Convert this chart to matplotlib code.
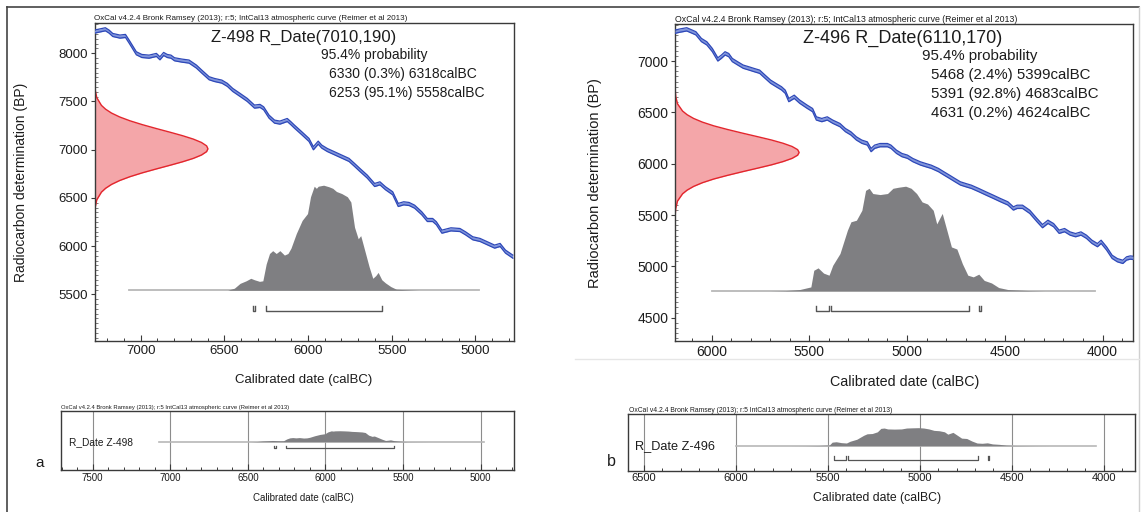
import numpy as np
import matplotlib
matplotlib.use("Agg")
import matplotlib.pyplot as plt
from matplotlib.lines import Line2D
from matplotlib.ticker import MultipleLocator, FixedLocator
from matplotlib import font_manager

plt.rcParams['font.family'] = ['Liberation Sans', 'DejaVu Sans']

# ---------------- data: panel a (Z-498) ----------------
a_title = "Z-498 R_Date(7010,190)"
a_ranges_text = ["95.4% probability", "6330 (0.3%) 6318calBC", "6253 (95.1%) 5558calBC"]
a_curve_cal = [7276, 7211, 7189, 7167, 7124, 7091, 7069, 7026, 6993, 6950, 6906, 6885, 6863, 6841,
               6819, 6798, 6754, 6711, 6667, 6635, 6591, 6559, 6515, 6482, 6450, 6406, 6363, 6320,
               6287, 6265, 6233, 6200, 6168, 6124, 6102, 6081, 6037, 5994, 5968, 5939, 5918, 5885,
               5842, 5798, 5755, 5722, 5690, 5646, 5602, 5570, 5537, 5494, 5461, 5428, 5396, 5363,
               5320, 5287, 5255, 5233, 5200, 5146, 5092, 5059, 5015, 4972, 4928, 4885, 4852, 4820, 4776]
a_curve_bp = [8225, 8249, 8225, 8190, 8173, 8180, 8121, 8000, 7972, 7965, 7983, 7948, 7993, 7972,
              7965, 7938, 7924, 7914, 7862, 7810, 7741, 7723, 7706, 7672, 7620, 7568, 7516, 7447,
              7454, 7429, 7343, 7291, 7281, 7308, 7274, 7239, 7170, 7101, 7015, 7073, 7032, 6997,
              6963, 6928, 6894, 6842, 6790, 6721, 6634, 6651, 6600, 6548, 6427, 6444, 6437, 6409,
              6340, 6271, 6271, 6237, 6150, 6174, 6167, 6133, 6081, 6064, 6029, 5995, 6012, 5943, 5891]
a_r_bp = [7770, 7700, 7620, 7540, 7460, 7420, 7380, 7340, 7300, 7260, 7220, 7180, 7145, 7110, 7075,
          7040, 7010, 6980, 6945, 6910, 6875, 6840, 6800, 6760, 6720, 6680, 6640, 6600, 6560, 6480,
          6400, 6320, 6250]
a_r_h = [0.0003, 0.0014, 0.0058, 0.020, 0.061, 0.098, 0.150, 0.221, 0.312, 0.421, 0.543, 0.670,
         0.777, 0.871, 0.943, 0.988, 1.0, 0.988, 0.943, 0.871, 0.777, 0.670, 0.543, 0.421, 0.312,
         0.221, 0.150, 0.098, 0.061, 0.020, 0.0058, 0.0014, 0.0003]
a_post_cal = [6480, 6440, 6406, 6370, 6342, 6320, 6290, 6270, 6250, 6230, 6211, 6190, 6168, 6141,
              6120, 6102, 6070, 6035, 6003, 5985, 5963, 5950, 5939, 5907, 5875, 5852, 5830, 5798,
              5765, 5744, 5722, 5700, 5685, 5668, 5635, 5613, 5595, 5581, 5559, 5537, 5505, 5472,
              5385, 5340]
a_post_h = [0.0, 0.02, 0.066, 0.09, 0.114, 0.10, 0.085, 0.09, 0.25, 0.35, 0.377, 0.35, 0.377, 0.335,
            0.35, 0.40, 0.54, 0.665, 0.73, 0.89, 0.99, 0.97, 0.99, 1.0, 0.985, 0.97, 0.94, 0.92,
            0.89, 0.84, 0.60, 0.49, 0.52, 0.42, 0.225, 0.114, 0.14, 0.17, 0.10, 0.07, 0.035, 0.01,
            0.003, 0.0]
a_base_span = [7070, 4978]
a_ranges = [(6330, 6318), (6253, 5558)]
a_label = "R_Date Z-498"

# ---------------- data: panel b (Z-496) ----------------
b_title = "Z-496 R_Date(6110,170)"
b_ranges_text = ["95.4% probability", "5468 (2.4%) 5399calBC", "5391 (92.8%) 4683calBC",
                 "4631 (0.2%) 4624calBC"]
b_curve_cal = [6187, 6164, 6127, 6099, 6080, 6052, 6024, 5996, 5968, 5950, 5931, 5912, 5894, 5866,
               5838, 5810, 5782, 5754, 5726, 5698, 5670, 5642, 5623, 5605, 5577, 5549, 5511, 5483,
               5464, 5436, 5408, 5380, 5343, 5315, 5287, 5259, 5231, 5203, 5184, 5166, 5138, 5100,
               5082, 5054, 5026, 4998, 4970, 4932, 4904, 4876, 4839, 4811, 4783, 4755, 4727, 4699,
               4671, 4633, 4596, 4559, 4522, 4484, 4456, 4437, 4409, 4372, 4335, 4307, 4279, 4250,
               4222, 4194, 4166, 4138, 4110, 4082, 4054, 4026, 4007, 3979, 3951, 3924, 3896, 3877,
               3858, 3844]
b_curve_bp = [7286, 7296, 7309, 7286, 7270, 7205, 7172, 7107, 7016, 7042, 7075, 7058, 7010, 6977,
              6945, 6929, 6912, 6896, 6847, 6799, 6766, 6734, 6701, 6620, 6652, 6604, 6555, 6522,
              6441, 6425, 6441, 6409, 6376, 6327, 6295, 6246, 6214, 6197, 6133, 6165, 6181, 6181,
              6165, 6116, 6084, 6068, 6035, 6003, 5986, 5970, 5938, 5905, 5873, 5840, 5808, 5791,
              5775, 5743, 5710, 5678, 5645, 5613, 5564, 5580, 5580, 5531, 5450, 5392, 5434, 5401,
              5337, 5353, 5320, 5304, 5320, 5288, 5239, 5207, 5239, 5174, 5093, 5060, 5044, 5077,
              5086, 5083]
b_r_bp = [6790, 6727, 6656, 6584, 6513, 6477, 6441, 6405, 6369, 6334, 6298, 6262, 6231, 6199, 6168,
          6137, 6110, 6083, 6052, 6021, 5989, 5958, 5922, 5886, 5851, 5815, 5779, 5743, 5707, 5636,
          5564, 5493, 5430]
b_r_h = [0.0003, 0.0014, 0.0058, 0.020, 0.061, 0.098, 0.150, 0.221, 0.312, 0.421, 0.543, 0.670,
         0.777, 0.871, 0.943, 0.988, 1.0, 0.988, 0.943, 0.871, 0.777, 0.670, 0.543, 0.421, 0.312,
         0.221, 0.150, 0.098, 0.061, 0.020, 0.0058, 0.0014, 0.0003]
b_post_cal = [5700, 5623, 5549, 5492, 5477, 5455, 5427, 5399, 5380, 5343, 5305, 5287, 5259, 5231,
              5212, 5194, 5175, 5138, 5100, 5072, 5044, 5007, 4979, 4951, 4923, 4895, 4866, 4848,
              4820, 4792, 4773, 4745, 4717, 4689, 4661, 4633, 4605, 4568, 4531, 4484, 4372, 4297]
b_post_h = [0.0, 0.003, 0.013, 0.038, 0.197, 0.22, 0.17, 0.15, 0.245, 0.357, 0.58, 0.66, 0.675,
            0.77, 0.96, 0.98, 0.93, 0.92, 0.93, 0.98, 0.99, 1.0, 0.98, 0.93, 0.85, 0.83, 0.77,
            0.64, 0.74, 0.55, 0.42, 0.40, 0.26, 0.15, 0.134, 0.16, 0.10, 0.076, 0.032, 0.013,
            0.003, 0.0]
b_base_span = [6000, 4040]
b_ranges = [(5468, 5399), (5391, 4683), (4631, 4624)]
b_label = "R_Date Z-496"

header_main = "OxCal v4.2.4 Bronk Ramsey (2013); r:5; IntCal13 atmospheric curve (Reimer et al 2013)"
header_small = "OxCal v4.2.4 Bronk Ramsey (2013); r:5 IntCal13 atmospheric curve (Reimer et al 2013)"
ylabel = "Radiocarbon determination (BP)"
xlabel = "Calibrated date (calBC)"

# ---------------- styling ----------------
BAND_FILL = '#8196dc'
BAND_EDGE = '#2e48b8'
RED_FILL = '#f4a6a9'
RED_EDGE = '#e3262d'
GRAY = '#7f7f82'
BASE = '#b8b8b8'
BRK = '#555555'
TXT = '#1c1c1c'
SPINE = '#3a3a3a'

names = {f.name for f in font_manager.fontManager.ttflist}
NARROW = 'Liberation Sans Narrow' in names
hdr_family = ['Liberation Sans Narrow', 'Liberation Sans'] if NARROW else ['Liberation Sans']
hdr_k = 1.2 if NARROW else 1.0

W, H = 1142, 512
fig = plt.figure(figsize=(W / 100, H / 100), dpi=100)


def box(l, t, r, b):
    return [l / W, 1 - b / H, (r - l) / W, (b - t) / H]


def ftext(x, y, s, **kw):
    kw.setdefault('color', TXT)
    fig.text(x / W, 1 - y / H, s, **kw)


def draw_main(ax, xlim, ylim, cal, bp, r_bp, r_h, r_w, post_cal, post_h, base_bp, post_scale,
              base_span, ranges, br_y, br_tick, fs):
    ax.set_xlim(xlim)
    ax.set_ylim(ylim)
    cal = np.asarray(cal, float)
    bp = np.asarray(bp, float)
    half = 16
    x0 = xlim[0]
    rx = x0 - np.asarray(r_h) * r_w
    ax.fill_betweenx(r_bp, x0, rx, color=RED_FILL, lw=0, zorder=2)
    ax.plot(rx, r_bp, color=RED_EDGE, lw=1.0, zorder=2.5)
    ax.plot(base_span, [base_bp, base_bp], color=BASE, lw=1.3, zorder=1)
    ax.fill_between(post_cal, base_bp, base_bp + np.asarray(post_h) * post_scale,
                    color=GRAY, lw=0, zorder=1.5)
    ax.fill_between(cal, bp - half, bp + half, color=BAND_FILL, lw=0, zorder=3)
    ax.plot(cal, bp + half, color=BAND_EDGE, lw=0.9, zorder=4)
    ax.plot(cal, bp - half, color=BAND_EDGE, lw=0.9, zorder=4)
    for s, e in ranges:
        ax.plot([s, s, e, e], [br_y + br_tick, br_y, br_y, br_y + br_tick],
                color=BRK, lw=1.0, zorder=2)
    ax.xaxis.set_major_locator(MultipleLocator(500))
    ax.xaxis.set_minor_locator(MultipleLocator(100))
    ax.yaxis.set_major_locator(MultipleLocator(500))
    ax.yaxis.set_minor_locator(MultipleLocator(50))
    ax.tick_params(axis='x', which='major', direction='in', length=4.5, width=0.8,
                   pad=3, labelsize=fs, colors=SPINE, labelcolor=TXT)
    ax.tick_params(axis='x', which='minor', direction='in', length=2.2, width=0.7, colors=SPINE)
    ax.tick_params(axis='y', which='major', direction='out', length=3, width=0.8,
                   pad=1.5, labelsize=fs, colors=SPINE, labelcolor=TXT)
    ax.tick_params(axis='y', which='minor', direction='in', length=2.2, width=0.6, colors='#666666')
    for sp in ax.spines.values():
        sp.set_color(SPINE)
        sp.set_linewidth(1.0)


def draw_small(ax, xlim, post_cal, post_h, base_y, post_scale, base_span, ranges, br_y, br_tick,
               fs, xticks):
    ax.set_xlim(xlim)
    ax.set_ylim(0, 1)
    ax.xaxis.set_major_locator(FixedLocator(xticks))
    ax.xaxis.set_minor_locator(MultipleLocator(100))
    ax.set_yticks([])
    for t in xticks:
        ax.axvline(t, color='#8c8c8c', lw=0.8, zorder=0.5)
    ax.plot(base_span, [base_y, base_y], color=BASE, lw=1.2, zorder=1)
    ax.fill_between(post_cal, base_y, base_y + np.asarray(post_h) * post_scale,
                    color=GRAY, lw=0, zorder=1.5)
    for s, e in ranges:
        ax.plot([s, s, e, e], [br_y + br_tick, br_y, br_y, br_y + br_tick],
                color=BRK, lw=0.9, zorder=2)
    ax.tick_params(axis='x', which='major', direction='in', length=4, width=0.8, pad=2,
                   labelsize=fs, colors=SPINE, labelcolor=TXT)
    ax.tick_params(axis='x', which='minor', direction='in', length=2.2, width=0.7, colors=SPINE)
    for sp in ax.spines.values():
        sp.set_color(SPINE)
        sp.set_linewidth(1.0)


# ---------------- main panels ----------------
axA = fig.add_axes(box(94.5, 23.3, 514, 341))
draw_main(axA, (7276, 4769), (5016, 8311), a_curve_cal, a_curve_bp, a_r_bp, a_r_h, 678,
          a_post_cal, a_post_h, 5542, 1090, a_base_span, a_ranges, 5330, 50, 9.5)

axB = fig.add_axes(box(675, 24, 1133, 341))
draw_main(axB, (6187, 3844), (4273, 7361), b_curve_cal, b_curve_bp, b_r_bp, b_r_h, 635,
          b_post_cal, b_post_h, 4761, 1020, b_base_span, b_ranges, 4565, 48, 10)

# ---------------- small panels ----------------
axa = fig.add_axes(box(61, 410.7, 514.5, 470))
draw_small(axa, (7704, 4782), a_post_cal, a_post_h, 0.477, 0.185, a_base_span, a_ranges,
           0.37, 0.03, 7, [7500, 7000, 6500, 6000, 5500, 5000])

axb = fig.add_axes(box(628.4, 414.3, 1134.8, 470.7))
draw_small(axb, (6585, 3831), b_post_cal, b_post_h, 0.443, 0.32, b_base_span, b_ranges,
           0.19, 0.07, 8, [6500, 6000, 5500, 5000, 4500, 4000])

# ---------------- texts ----------------
ftext(94.5, 19, header_main, fontsize=5.8 * hdr_k, family=hdr_family, ha='left', va='center')
ftext(675, 20, header_main, fontsize=6.3 * hdr_k, family=hdr_family, ha='left', va='center')
ftext(61, 407.5, header_small, fontsize=4.2 * hdr_k, family=hdr_family, ha='left', va='center')
ftext(629, 410, header_small, fontsize=4.9 * hdr_k, family=hdr_family, ha='left', va='center')

ftext(304, 37, a_title, fontsize=12, ha='center', va='center')
ftext(321, 55, a_ranges_text[0], fontsize=10, ha='left', va='center')
for i, s in enumerate(a_ranges_text[1:]):
    ftext(329, 74 + 19 * i, s, fontsize=10, ha='left', va='center')

ftext(903, 38, b_title, fontsize=13, ha='center', va='center')
ftext(922, 56, b_ranges_text[0], fontsize=10.8, ha='left', va='center')
for i, s in enumerate(b_ranges_text[1:]):
    ftext(931, 75 + 19 * i, s, fontsize=10.8, ha='left', va='center')

ftext(20.7, 182, ylabel, fontsize=10, rotation=90, ha='center', va='center')
ftext(595, 183, ylabel, fontsize=10.5, rotation=90, ha='center', va='center')
ftext(303.6, 380, xlabel, fontsize=9.5, ha='center', va='center')
ftext(905, 382, xlabel, fontsize=10.3, ha='center', va='center')

ftext(69, 441.7, a_label, fontsize=7.3, ha='left', va='center')
ftext(635, 445.7, b_label, fontsize=9.2 * hdr_k, family=hdr_family, ha='left', va='center')
ftext(303, 497.7, xlabel, fontsize=7, ha='center', va='center')
ftext(877, 498, xlabel, fontsize=8.8, ha='center', va='center')
ftext(40, 463, "a", fontsize=11, ha='center', va='center')
ftext(611, 462, "b", fontsize=11.5, ha='center', va='center')

# ---------------- frame lines ----------------
fig.add_artist(Line2D([7 / W, 7 / W], [0, 1 - 7 / H], transform=fig.transFigure,
                      color='#444444', lw=1.2))
fig.add_artist(Line2D([7 / W, 1139 / W], [1 - 7 / H, 1 - 7 / H], transform=fig.transFigure,
                      color='#444444', lw=1.2))
fig.add_artist(Line2D([1139 / W, 1139 / W], [0, 1 - 7 / H], transform=fig.transFigure,
                      color='#d0d0d0', lw=1.0))
fig.add_artist(Line2D([575 / W, 1139 / W], [1 - 359 / H, 1 - 359 / H], transform=fig.transFigure,
                      color='#e6e6e6', lw=1.0))

fig.savefig("out.png", dpi=100)
